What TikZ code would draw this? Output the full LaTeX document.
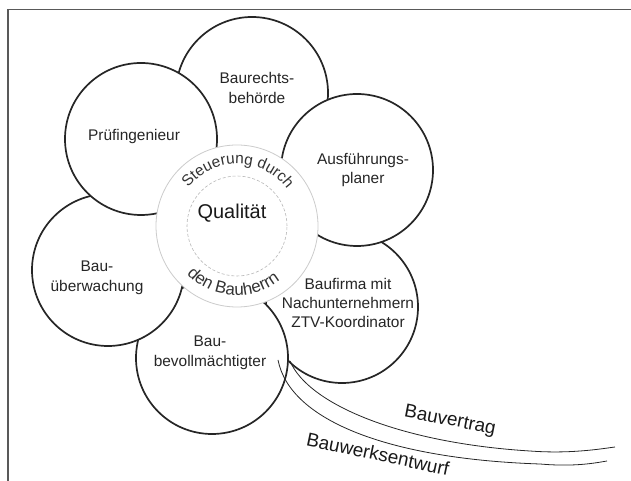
\documentclass[tikz,border=0pt]{standalone}
\usepackage{fontspec}
\setmainfont{Liberation Sans}
\usetikzlibrary{decorations.text}
\begin{document}
\begin{tikzpicture}[x=1bp,y=1bp,
  petal/.style={circle, draw=black!85, line width=1.7bp, fill=white, minimum size=152bp, inner sep=0pt},
  ptext/.style={align=center, font=\fontsize{15.5}{19.5}\selectfont, text=black!85, inner sep=0pt},
  band/.style={line width=0.8bp, draw=black!85},
  blabel/.style={font=\fontsize{19}{22}\selectfont, text=black!90, inner sep=0pt}]
\useasboundingbox (0,0) rectangle (631,481);
\draw[draw=black!65, line width=1.2bp] (8,0) -- (8,471.5) -- (631,471.5);
% petals (stacking order as in the reference)
\node[petal] (b1) at (252,388) {};
\node[petal] (b3) at (342,174) {};
\node[petal] (b2) at (357,311) {};
\node[petal] (b4) at (212,123) {};
\node[petal] (b5) at (108,211) {};
\node[petal] (b6) at (141,342) {};
% petal texts
\node[ptext] (t1) at (257,393) {Baurechts-\\behörde};
\node[ptext] (t2) at (363,311) {Ausführungs-\\planer};
\node[ptext] (t3) at (348,178) {Baufirma mit\\Nachunternehmern\\ZTV-Koordinator};
\node[ptext] (t4) at (210,128) {Bau-\\bevollmächtigter};
\node[ptext] (t5) at (97,203) {Bau-\\überwachung};
\node[ptext] (t6) at (134,344) {Prüfingenieur};
% bands
\coordinate (v0) at (290,120); \coordinate (v1) at (615,34);
\coordinate (w0) at (278,121); \coordinate (w1) at (607,20);
\draw[band] (v0) .. controls (308,77) and (400,38) .. (530,30) .. controls (570,27) and (600,32) .. (v1);
\draw[band] (w0) .. controls (290,60) and (390,22) .. (540,17) .. controls (575,14) and (595,18) .. (w1);
\node[blabel, rotate=-11] (lv) at (450,60) {Bauvertrag};
\node[blabel, rotate=-12] (lw) at (378,27) {Bauwerksentwurf};
% centre
\node[circle, draw=black!20, line width=0.8bp, fill=white, minimum size=162bp, inner sep=0pt] (ring) at (237,255) {};
\node[circle, draw=black!28, dash pattern=on 3bp off 2bp, line width=0.6bp, minimum size=100bp, inner sep=0pt] (core) at (237,255) {};
\node[font=\fontsize{20}{24}\selectfont, text=black!90] (q) at (232,268) {Qualität};
\path[decorate, decoration={text along path, text align=center,
  text={|\fontsize{15.5}{18}\selectfont\color{black!80}|Steuerung durch}}]
  (ring.center) ++(179:62) arc[start angle=179, end angle=-1, radius=62];
\path[decorate, decoration={text along path, text align=center,
  text={|\fontsize{17}{20}\selectfont\color{black!80}|den Bauherrn}}]
  (ring.center) ++(186:69.5) arc[start angle=186, end angle=346, radius=69.5];
\end{tikzpicture}
\end{document}
